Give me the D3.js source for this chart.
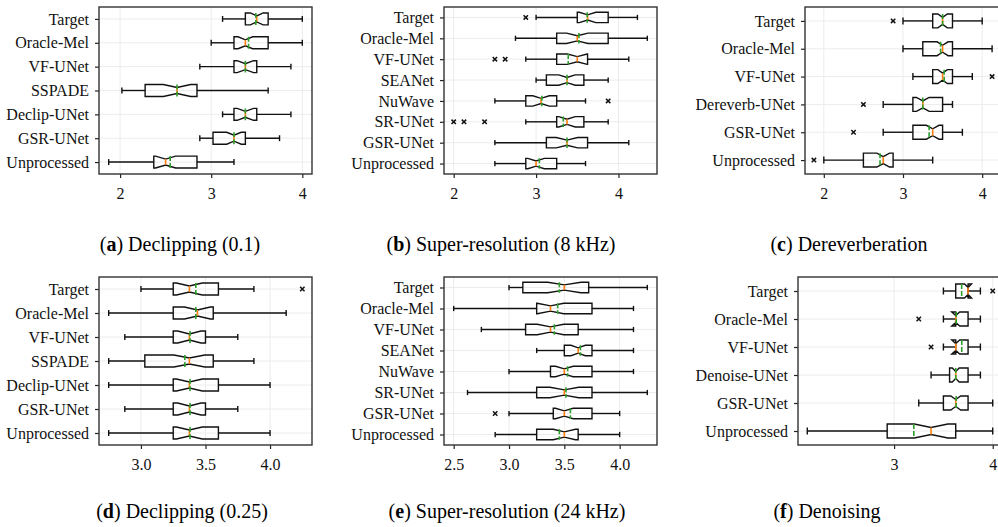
<!DOCTYPE html>
<html>
<head>
  <meta charset="utf-8">
  <title>MOS boxplots</title>
  <script src="https://d3js.org/d3.v7.min.js"></script>
  <style>
    body {
      margin: 0;
      background: #fff;
      font-family: 'Liberation Serif';
    }
    svg {
      display: block;
    }
    .grid line {
      stroke: #ececec;
      stroke-width: 1;
    }
    .axis path {
      display: none;
    }
    .axis line {
      stroke: #222;
      stroke-width: 1.2;
    }
    .axis text {
      fill: #111;
    }
    .frame {
      fill: none;
      stroke: #333;
      stroke-width: 1.4;
    }
    .box, .whisker, .cap {
      fill: none;
      stroke: #111;
      stroke-width: 1.4;
    }
    .median {
      stroke: #ff7f0e;
      stroke-width: 1.6;
    }
    .mean {
      stroke: #2ca02c;
      stroke-width: 1.6;
      stroke-dasharray: 5 2;
    }
    .flier {
      stroke: #111;
      stroke-width: 1.5;
      fill: none;
    }
    .caption {
      fill: #000;
    }
  </style>
</head>
<body>
<script>

// category names (top to bottom)
var labelsA = ["Target", "Oracle-Mel", "VF-UNet", "SSPADE", "Declip-UNet", "GSR-UNet", "Unprocessed"];
var labelsB = ["Target", "Oracle-Mel", "VF-UNet", "SEANet", "NuWave", "SR-UNet", "GSR-UNet", "Unprocessed"];
var labelsC = ["Target", "Oracle-Mel", "VF-UNet", "Dereverb-UNet", "GSR-UNet", "Unprocessed"];
var labelsF = ["Target", "Oracle-Mel", "VF-UNet", "Denoise-UNet", "GSR-UNet", "Unprocessed"];

// [whisker low, q1, median, mean, q3, whisker high, notch half-width]
var statsA = [
  [3.125, 3.375, 3.5,   3.49,  3.625, 4.0,   0.07],
  [3.0,   3.25,  3.375, 3.41,  3.625, 4.0,   0.08],
  [2.875, 3.25,  3.375, 3.375, 3.5,   3.875, 0.09],
  [2.02,  2.275, 2.625, 2.625, 2.844, 3.625, 0.15],
  [3.125, 3.25,  3.375, 3.375, 3.5,   3.875, 0.09],
  [2.875, 3.02,  3.25,  3.25,  3.375, 3.75,  0.08],
  [1.875, 2.37,  2.5,   2.55,  2.844, 3.25,  0.11]
];
var fliersA = [[], [], [], [], [], [], []];

var statsB = [
  [3.0,   3.5,   3.625, 3.62,  3.875, 4.23,  0.1],
  [2.75,  3.25,  3.5,   3.52,  3.875, 4.35,  0.13],
  [2.875, 3.25,  3.5,   3.39,  3.625, 4.125, 0.12],
  [3.0,   3.125, 3.375, 3.375, 3.58,  3.875, 0.1],
  [2.5,   2.875, 3.06,  3.07,  3.25,  3.6,   0.1],
  [2.875, 3.25,  3.375, 3.33,  3.58,  3.875, 0.1],
  [2.5,   3.125, 3.375, 3.375, 3.625, 4.125, 0.13],
  [2.5,   2.875, 3.0,   3.04,  3.25,  3.6,   0.1]
];
var fliersB = [[2.875], [], [2.5, 2.625], [], [3.875], [2.0, 2.125, 2.375], [], []];

var statsC = [
  [3.0,   3.375, 3.5,   3.5,   3.625, 4.0,   0.06],
  [3.0,   3.25,  3.5,   3.475, 3.625, 4.125, 0.07],
  [3.125, 3.375, 3.5,   3.52,  3.625, 3.875, 0.06],
  [2.75,  3.125, 3.25,  3.25,  3.5,   3.625, 0.08],
  [2.75,  3.125, 3.375, 3.33,  3.5,   3.75,  0.08],
  [2.0,   2.5,   2.75,  2.71,  2.875, 3.375, 0.08]
];
var fliersC = [[2.875], [], [4.125], [2.5], [2.375], [1.875]];

var statsD = [
  [3.0,   3.25,  3.375, 3.425, 3.6,   3.875, 0.1],
  [2.75,  3.25,  3.4375, 3.425, 3.56, 4.125, 0.1],
  [2.875, 3.25,  3.375, 3.38,  3.5,   3.75,  0.09],
  [2.75,  3.03,  3.375, 3.34,  3.56,  3.875, 0.12],
  [2.75,  3.25,  3.375, 3.38,  3.6,   4.0,   0.1],
  [2.875, 3.25,  3.375, 3.38,  3.5,   3.75,  0.09],
  [2.75,  3.25,  3.375, 3.38,  3.6,   4.0,   0.1]
];
var fliersD = [[4.25], [], [], [], [], [], []];

var statsE = [
  [3.0,   3.125, 3.5,   3.455, 3.72,  4.25,  0.15],
  [2.5,   3.25,  3.375, 3.44,  3.75,  4.125, 0.12],
  [2.75,  3.15,  3.375, 3.41,  3.625, 4.125, 0.12],
  [3.25,  3.5,   3.625, 3.645, 3.75,  4.125, 0.065],
  [3.0,   3.375, 3.5,   3.53,  3.75,  4.125, 0.08],
  [2.625, 3.25,  3.5,   3.515, 3.75,  4.25,  0.13],
  [3.0,   3.4,   3.5,   3.555, 3.75,  4.0,   0.08],
  [2.875, 3.25,  3.5,   3.455, 3.625, 4.0,   0.1]
];
var fliersE = [[], [], [], [], [], [], [2.875], []];

var statsF = [
  [3.5,   3.625,  3.75,  3.685, 3.75, 3.875, 0.035],
  [3.5,   3.625,  3.625, 3.63,  3.75, 3.875, 0.04],
  [3.5,   3.625,  3.625, 3.686, 3.75, 3.875, 0.04],
  [3.375, 3.5625, 3.625, 3.625, 3.75, 3.875, 0.035],
  [3.25,  3.5,    3.625, 3.63,  3.75, 4.0,   0.05],
  [2.12,  2.93,   3.375, 3.2,   3.625, 4.0,  0.17]
];
var fliersF = [[4.0], [3.25], [3.375], [], [], []];

// x tick labels
var ticksA = [2, 3, 4];
var ticksB = [2, 3, 4];
var ticksC = [2, 3, 4];
var ticksD = [3.0, 3.5, 4.0];
var ticksE = [2.5, 3.0, 3.5, 4.0];
var ticksF = [3, 4];

var W = 998, H = 527;
var serif = "Liberation Serif";

var svg = d3.select("body").append("svg")
    .attr("width", W)
    .attr("height", H)
    .attr("font-family", serif);

var panels = [
  {labels: labelsA, stats: statsA, fliers: fliersA, ticks: ticksA, fmt: "d",   x: 99,  y: 7,   w: 213, h: 167, tag: "a", cap: "Declipping (0.1)",            cx: 180, cy: 251},
  {labels: labelsB, stats: statsB, fliers: fliersB, ticks: ticksB, fmt: "d",   x: 444, y: 7,   w: 213, h: 167, tag: "b", cap: "Super-resolution (8 kHz)",    cx: 501, cy: 251},
  {labels: labelsC, stats: statsC, fliers: fliersC, ticks: ticksC, fmt: "d",   x: 805, y: 7,   w: 196, h: 167, tag: "c", cap: "Dereverberation",             cx: 849, cy: 251},
  {labels: labelsA, stats: statsD, fliers: fliersD, ticks: ticksD, fmt: ".1f", x: 99,  y: 277, w: 213, h: 168, tag: "d", cap: "Declipping (0.25)",           cx: 182, cy: 518},
  {labels: labelsB, stats: statsE, fliers: fliersE, ticks: ticksE, fmt: ".1f", x: 444, y: 277, w: 213, h: 168, tag: "e", cap: "Super-resolution (24 kHz)",   cx: 507, cy: 518},
  {labels: labelsF, stats: statsF, fliers: fliersF, ticks: ticksF, fmt: "d",   x: 798, y: 277, w: 204, h: 168, tag: "f", cap: "Denoising",                   cx: 827, cy: 518}
];

panels.forEach(function(p) {

  // matplotlib-like 5% margin around the data
  var lo = d3.min(p.stats, function(s, i) { return d3.min([s[0]].concat(p.fliers[i])); });
  var hi = d3.max(p.stats, function(s, i) { return d3.max([s[5]].concat(p.fliers[i])); });
  var pad = (hi - lo) * 0.05;

  var x = d3.scaleLinear()
      .domain([lo - pad, hi + pad])
      .range([0, p.w]);

  var y = d3.scalePoint()
      .domain(p.labels)
      .range([0, p.h])
      .padding(0.5);

  var step = y.step();
  var bh = step * 0.25;     // half box height
  var ch = step * 0.125;    // half cap length

  var g = svg.append("g")
      .attr("transform", "translate(" + p.x + "," + p.y + ")");

  // grid
  var grid = g.append("g").attr("class", "grid");
  grid.selectAll("line.gx")
      .data(p.ticks)
    .enter().append("line")
      .attr("x1", function(d) { return x(d); })
      .attr("x2", function(d) { return x(d); })
      .attr("y1", 0)
      .attr("y2", p.h);
  grid.selectAll("line.gy")
      .data(p.labels)
    .enter().append("line")
      .attr("x1", 0)
      .attr("x2", p.w)
      .attr("y1", function(d) { return y(d); })
      .attr("y2", function(d) { return y(d); });

  // axes (d3 sets font attributes on the group, override them)
  var xa = g.append("g")
      .attr("class", "axis")
      .attr("transform", "translate(0," + p.h + ")")
      .call(d3.axisBottom(x).tickValues(p.ticks).tickFormat(d3.format(p.fmt)).tickSize(4).tickPadding(10).tickSizeOuter(0));

  var ya = g.append("g")
      .attr("class", "axis")
      .call(d3.axisLeft(y).tickSize(4).tickPadding(6).tickSizeOuter(0));

  [xa, ya].forEach(function(a) {
    a.attr("font-family", serif).attr("font-size", 16);
    a.selectAll("text").attr("font-family", serif).attr("font-size", 16);
  });

  // one group per box
  var rows = g.selectAll("g.row")
      .data(p.stats)
    .enter().append("g")
      .attr("class", "row")
      .attr("transform", function(d, i) { return "translate(0," + y(p.labels[i]) + ")"; });

  // whiskers
  rows.append("line")
      .attr("class", "whisker")
      .attr("x1", function(d) { return x(d[0]); })
      .attr("x2", function(d) { return x(d[1]); });
  rows.append("line")
      .attr("class", "whisker")
      .attr("x1", function(d) { return x(d[4]); })
      .attr("x2", function(d) { return x(d[5]); });

  // caps
  rows.append("line")
      .attr("class", "cap")
      .attr("x1", function(d) { return x(d[0]); })
      .attr("x2", function(d) { return x(d[0]); })
      .attr("y1", -ch)
      .attr("y2", ch);
  rows.append("line")
      .attr("class", "cap")
      .attr("x1", function(d) { return x(d[5]); })
      .attr("x2", function(d) { return x(d[5]); })
      .attr("y1", -ch)
      .attr("y2", ch);

  // notched box
  rows.append("path")
      .attr("class", "box")
      .attr("d", function(d) {
        var q1 = x(d[1]), q3 = x(d[4]), md = x(d[2]),
            cl = x(d[2] - d[6]), cr = x(d[2] + d[6]);
        return d3.line()([
          [q1, -bh], [cl, -bh], [md, -bh / 2], [cr, -bh], [q3, -bh],
          [q3, bh], [cr, bh], [md, bh / 2], [cl, bh], [q1, bh], [q1, -bh]
        ]) + "Z";
      });

  // median
  rows.append("line")
      .attr("class", "median")
      .attr("x1", function(d) { return x(d[2]); })
      .attr("x2", function(d) { return x(d[2]); })
      .attr("y1", -bh / 2)
      .attr("y2", bh / 2);

  // fliers
  rows.each(function(d, i) {
    d3.select(this).selectAll("path.flier")
        .data(p.fliers[i])
      .enter().append("path")
        .attr("class", "flier")
        .attr("d", function(v) {
          var cx = x(v), r = 2.2;
          return "M" + (cx - r) + "," + (-r) + "L" + (cx + r) + "," + r +
                 "M" + (cx - r) + "," + r + "L" + (cx + r) + "," + (-r);
        });
  });

  // mean
  rows.append("line")
      .attr("class", "mean")
      .attr("x1", function(d) { return x(d[3]); })
      .attr("x2", function(d) { return x(d[3]); })
      .attr("y1", -bh)
      .attr("y2", bh);

  // frame
  g.append("rect")
      .attr("class", "frame")
      .attr("width", p.w)
      .attr("height", p.h);

  // caption
  var t = svg.append("text")
      .attr("class", "caption")
      .attr("font-family", serif)
      .attr("font-size", 20)
      .attr("x", p.cx)
      .attr("y", p.cy)
      .attr("text-anchor", "middle");
  t.append("tspan").text("(");
  t.append("tspan").attr("font-weight", "bold").text(p.tag);
  t.append("tspan").text(") " + p.cap);
});

</script>
</body>
</html>
